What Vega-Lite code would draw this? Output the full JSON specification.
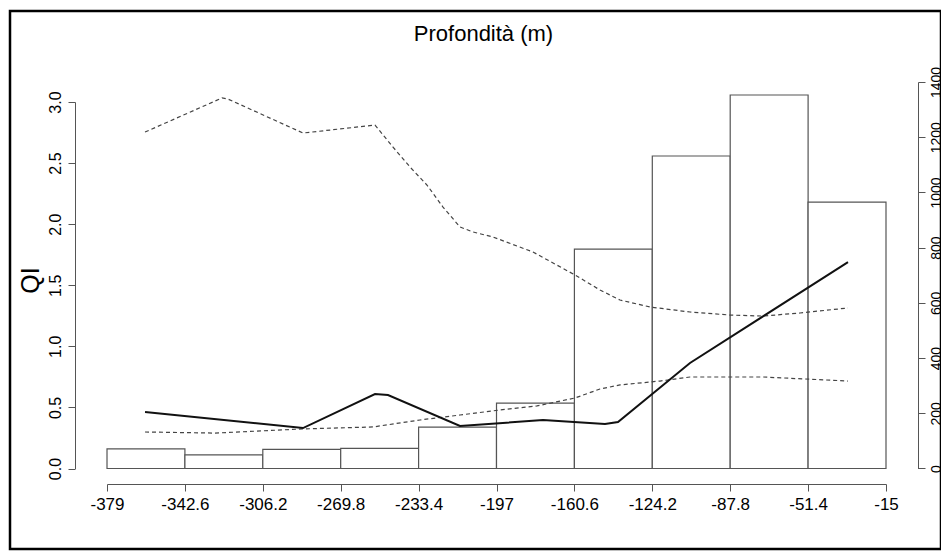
{
  "$schema": "https://vega.github.io/schema/vega-lite/v6.json",
  "autosize": {"type": "none"},
  "padding": {"left": 10, "top": 11, "right": 0, "bottom": 9},
  "width": 931,
  "height": 538,
  "background": "white",
  "title": {"text": "Profondità (m)", "fontSize": 22, "fontWeight": "normal", "font": "Liberation Sans", "color": "black", "offset": -35, "dx": 8, "anchor": "middle"},
  "config": {
    "view": {"stroke": "black", "strokeWidth": 2.5},
    "font": "Liberation Sans",
    "axis": {"grid": false, "domainColor": "#555", "tickColor": "#555", "tickSize": 7, "labelColor": "black", "labelFont": "Liberation Sans", "titleFont": "Liberation Sans", "titleColor": "black", "titleFontWeight": "normal"}
  },
  "datasets": {
    "bars": [
      {"start": -379, "end": -342.6, "count": 71},
      {"start": -342.6, "end": -306.2, "count": 49},
      {"start": -306.2, "end": -269.8, "count": 69},
      {"start": -269.8, "end": -233.4, "count": 73},
      {"start": -233.4, "end": -197, "count": 150},
      {"start": -197, "end": -160.6, "count": 237},
      {"start": -160.6, "end": -124.2, "count": 795},
      {"start": -124.2, "end": -87.8, "count": 1132},
      {"start": -87.8, "end": -51.4, "count": 1353},
      {"start": -51.4, "end": -15, "count": 965}
    ],
    "lines": [
      {"series": "QI", "depth": -361.24, "QI": 0.462},
      {"series": "QI", "depth": -287.42, "QI": 0.331},
      {"series": "QI", "depth": -253.77, "QI": 0.610},
      {"series": "QI", "depth": -247.70, "QI": 0.602},
      {"series": "QI", "depth": -214.06, "QI": 0.348},
      {"series": "QI", "depth": -175.27, "QI": 0.397},
      {"series": "QI", "depth": -146.31, "QI": 0.364},
      {"series": "QI", "depth": -140.23, "QI": 0.381},
      {"series": "QI", "depth": -106.58, "QI": 0.864},
      {"series": "QI", "depth": -32.76, "QI": 1.690},
      {"series": "upper", "depth": -361.24, "QI": 2.754},
      {"series": "upper", "depth": -325.26, "QI": 3.033},
      {"series": "upper", "depth": -322.46, "QI": 3.024},
      {"series": "upper", "depth": -287.42, "QI": 2.746},
      {"series": "upper", "depth": -253.77, "QI": 2.811},
      {"series": "upper", "depth": -245.36, "QI": 2.631},
      {"series": "upper", "depth": -237.42, "QI": 2.468},
      {"series": "upper", "depth": -229.48, "QI": 2.320},
      {"series": "upper", "depth": -222.00, "QI": 2.140},
      {"series": "upper", "depth": -214.06, "QI": 1.977},
      {"series": "upper", "depth": -207.98, "QI": 1.936},
      {"series": "upper", "depth": -198.64, "QI": 1.895},
      {"series": "upper", "depth": -179.95, "QI": 1.772},
      {"series": "upper", "depth": -160.32, "QI": 1.584},
      {"series": "upper", "depth": -148.64, "QI": 1.461},
      {"series": "upper", "depth": -139.29, "QI": 1.379},
      {"series": "upper", "depth": -125.28, "QI": 1.322},
      {"series": "upper", "depth": -106.58, "QI": 1.281},
      {"series": "upper", "depth": -87.89, "QI": 1.256},
      {"series": "upper", "depth": -72.47, "QI": 1.248},
      {"series": "upper", "depth": -55.18, "QI": 1.273},
      {"series": "upper", "depth": -32.76, "QI": 1.314},
      {"series": "lower", "depth": -361.24, "QI": 0.299},
      {"series": "lower", "depth": -328.53, "QI": 0.290},
      {"series": "lower", "depth": -287.42, "QI": 0.324},
      {"series": "lower", "depth": -254.71, "QI": 0.340},
      {"series": "lower", "depth": -232.75, "QI": 0.397},
      {"series": "lower", "depth": -214.06, "QI": 0.438},
      {"series": "lower", "depth": -195.37, "QI": 0.479},
      {"series": "lower", "depth": -178.08, "QI": 0.512},
      {"series": "lower", "depth": -160.32, "QI": 0.577},
      {"series": "lower", "depth": -148.64, "QI": 0.651},
      {"series": "lower", "depth": -139.29, "QI": 0.684},
      {"series": "lower", "depth": -120.60, "QI": 0.716},
      {"series": "lower", "depth": -106.58, "QI": 0.749},
      {"series": "lower", "depth": -72.47, "QI": 0.749},
      {"series": "lower", "depth": -32.76, "QI": 0.716}
    ]
  },
  "layer": [
    {
      "data": {"name": "bars"},
      "mark": {"type": "rect", "fill": "white", "stroke": "#555", "strokeWidth": 1.2},
      "encoding": {
        "x": {"field": "start", "type": "quantitative",
              "scale": {"domain": [-424.33, 10.70], "nice": false, "zero": false},
              "axis": {"orient": "bottom", "offset": -65, "title": null,
                       "values": [-379, -342.6, -306.2, -269.8, -233.4, -197, -160.6, -124.2, -87.8, -51.4, -15],
                       "labelExpr": "toString(datum.value)", "labelFontSize": 17, "labelPadding": 5,
                       "domainDash": [0, 97, 779, 3000]}},
        "x2": {"field": "end"},
        "y": {"field": "count", "type": "quantitative",
              "scale": {"domain": [-291.6, 1657.2], "nice": false, "zero": false},
              "axis": {"orient": "right", "offset": -23, "title": null,
                       "values": [0, 200, 400, 600, 800, 1000, 1200, 1400],
                       "format": "d", "labelAngle": -90, "labelFontSize": 14, "labelPadding": 4,
                       "domainDash": [0, 80.5, 386.5, 3000]}},
        "y2": {"datum": 0}
      }
    },
    {
      "layer": [
        {
          "mark": {"type": "rule", "stroke": "#555", "strokeWidth": 1, "strokeDash": [1, 2]},
          "encoding": {
            "x": {"datum": -394, "type": "quantitative", "scale": {"domain": [-424.33, 10.70], "nice": false, "zero": false}},
            "x2": {"datum": 0},
            "y": {"datum": 1, "type": "quantitative", "scale": {"domain": [-0.6589, 3.7449], "nice": false, "zero": false}}
          }
        },
        {
          "data": {"name": "lines"},
          "transform": [{"filter": "datum.series !== 'QI'"}],
          "mark": {"type": "line", "stroke": "#444", "strokeWidth": 1.2, "strokeDash": [4, 3]},
          "encoding": {
            "x": {"field": "depth", "type": "quantitative", "scale": {"domain": [-424.33, 10.70], "nice": false, "zero": false}},
            "y": {"field": "QI", "type": "quantitative", "scale": {"domain": [-0.6589, 3.7449], "nice": false, "zero": false}},
            "detail": {"field": "series"}
          }
        },
        {
          "data": {"name": "lines"},
          "transform": [{"filter": "datum.series === 'QI'"}],
          "mark": {"type": "line", "stroke": "#111", "strokeWidth": 2},
          "encoding": {
            "x": {"field": "depth", "type": "quantitative", "scale": {"domain": [-424.33, 10.70], "nice": false, "zero": false}},
            "y": {"field": "QI", "type": "quantitative",
                  "scale": {"domain": [-0.6589, 3.7449], "nice": false, "zero": false},
                  "axis": {"orient": "left", "offset": -65, "title": "QI", "titleFontSize": 25, "titlePadding": 4,
                           "values": [0, 0.5, 1, 1.5, 2, 2.5, 3], "format": ".1f",
                           "labelAngle": -90, "labelFontSize": 16, "labelPadding": 5,
                           "domainDash": [0, 80.5, 366.5, 3000]}}
          }
        }
      ]
    }
  ],
  "resolve": {"scale": {"y": "independent"}, "axis": {"y": "independent"}}
}
